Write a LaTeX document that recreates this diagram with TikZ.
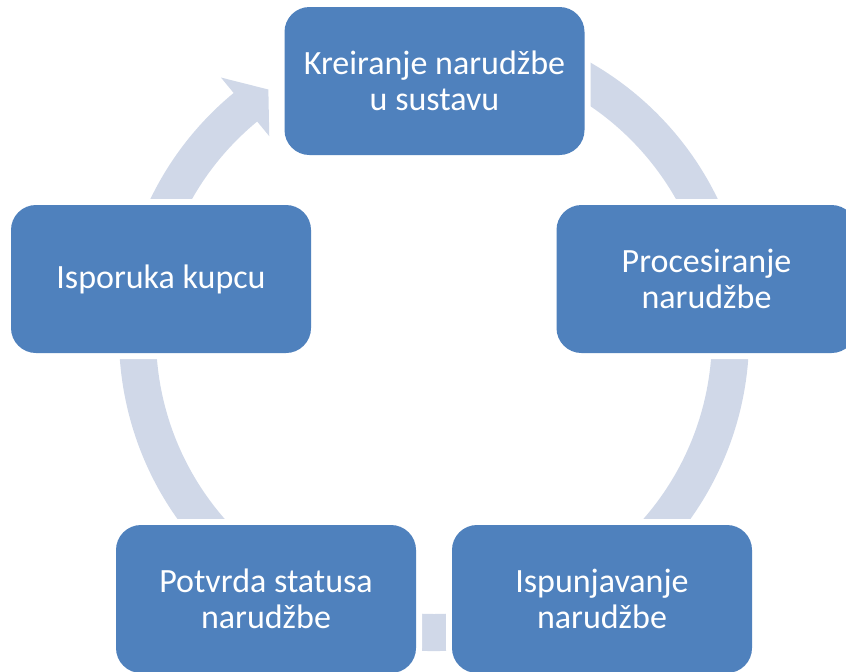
\documentclass[tikz,border=0pt]{standalone}
\usepackage{fontspec}
\setmainfont{Carlito}

\definecolor{plava}{RGB}{79,129,189}
\definecolor{prsten}{RGB}{208,216,232}

\tikzset{
  korak/.style={rectangle, rounded corners=12.5pt, fill=plava, text=white,
    preaction={draw=white, line width=6pt},
    minimum width=150pt, minimum height=74pt, inner sep=0pt, align=center,
    font=\fontsize{17}{18}\selectfont}
}

\begin{document}
\begin{tikzpicture}[x=0.5pt, y=0.5pt]

    \clip (0,0) rectangle (846,-671);
    \coordinate (center) at (434,-336);

% prsten sa strelicom
\fill[prsten, shift={(center)}] (100:315) arc[start angle=100, end angle=-230.5, radius=315]
  -- (-230.5:335) -- (-236.1:297) -- (-230.5:259) -- (-230.5:278)
  arc[start angle=-230.5, end angle=100, radius=278] -- cycle;

% koraci
\node[korak] (kreiranje) at (434.5,-81) {Kreiranje narudžbe\\u sustavu};
\node[korak] (procesiranje) at (706.5,-279) {Procesiranje\\narudžbe};
\node[korak] (ispunjavanje) at (602,-599) {Ispunjavanje\\narudžbe};
\node[korak] (potvrda) at (266,-599) {Potvrda statusa\\narudžbe};
\node[korak] (isporuka) at (161,-279) {Isporuka kupcu};

\end{tikzpicture}
\end{document}
